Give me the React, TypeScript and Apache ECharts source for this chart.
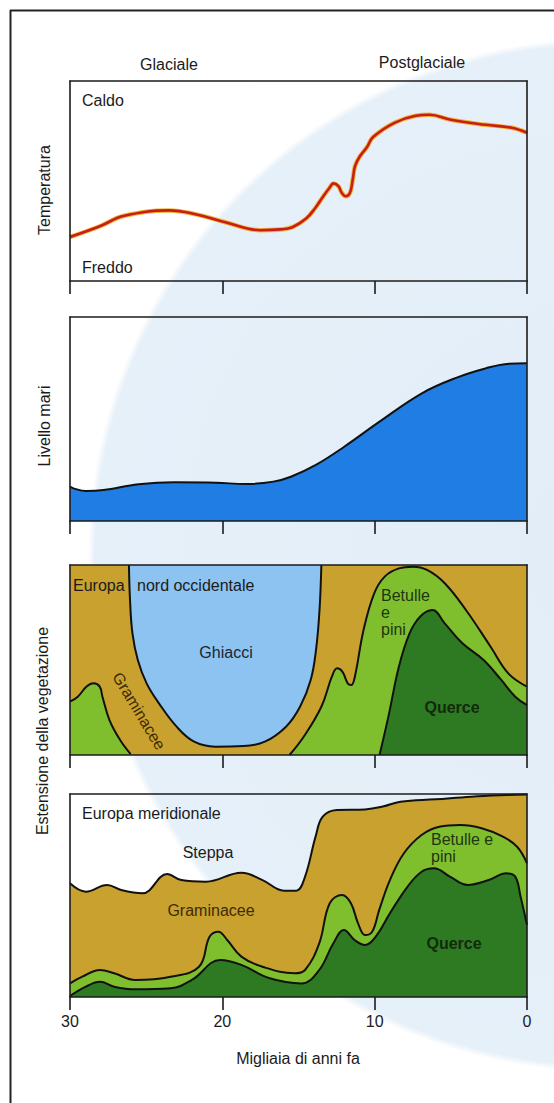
import React, { useEffect, useRef } from "react";
import * as echarts from "echarts";

// ---------- DATA ----------
const tickValues = [30, 20, 10, 0];

// Panel 1: temperature (0 = Freddo, 100 = Caldo)
const tempYears = [30, 28, 26.5, 23.5, 21.7, 19.8, 17.5, 16.2, 15.4, 14.5, 13.9, 13.37, 12.96, 12.71, 12.38, 12.16, 11.9, 11.62, 11.44, 11.29, 11.0, 10.5, 10.1, 8.7, 7.3, 6.4, 5.0, 2.7, 1.0, 0];
const tempValues = [22, 27.5, 32.5, 35.3, 33.3, 29.4, 25.4, 25.8, 26.9, 31.2, 36.5, 42.4, 46.6, 48.8, 47.4, 44.1, 42.4, 44.1, 50.7, 57.4, 62, 67, 72, 79.1, 82.6, 83.1, 80.6, 78.1, 76.6, 74.1];

// Panel 2: sea level
const seaYears = [30, 29.77, 28.96, 27.8, 25.5, 23.15, 20.4, 18.5, 16.65, 15.5, 13.86, 12.0, 9.68, 6.9, 4.57, 2.72, 1.33, 0];
const seaValues = [16.8, 16.0, 14.7, 15.2, 18.0, 19.0, 18.8, 18.1, 19.3, 21.7, 27.5, 36.4, 48.7, 62.6, 70.4, 74.8, 77.0, 77.3];

// Panel 3: north-western Europe
const nwIceYears = [26.13, 26.06, 25.9, 25.55, 24.97, 24.16, 23.0, 21.85, 20.46, 18.6, 17.21, 15.82, 14.9, 14.2, 13.85, 13.62, 13.5];
const nwIceValues = [100, 81.6, 64.0, 50.0, 37.7, 27.2, 14.9, 7.0, 4.4, 4.7, 7.0, 14.9, 25.4, 39.5, 55.3, 76.3, 100];
const nwGreenLeftYears = [30, 29.49, 28.91, 28.45, 28.05, 27.87, 27.41, 26.71, 26.02];
const nwGreenLeftValues = [28.1, 30.7, 36.0, 37.7, 36.0, 30.7, 18.4, 7.9, 0.5];
const nwBirchYears = [15.59, 14.66, 13.5, 12.81, 12.47, 12.12, 11.77, 11.54, 11.3, 10.73, 10.03, 9.34, 8.41, 7.48, 6.56, 5.4, 4.01, 2.39, 1.23, 0];
const nwBirchValues = [0, 9.6, 25.4, 41.2, 45.6, 43.9, 37.7, 36.8, 41.2, 65.8, 85.1, 93.9, 98.2, 99.1, 97.4, 90.4, 76.3, 57.0, 43.0, 36.0];
const nwOakYears = [9.68, 9.1, 8.41, 7.71, 7.02, 6.21, 5.4, 4.24, 2.85, 1.69, 0.77, 0];
const nwOakValues = [0, 20.2, 46.5, 64.0, 72.8, 76.3, 69.3, 58.8, 50.0, 39.5, 30.7, 26.3];

// Panel 4: southern Europe
const sGrassYears = [30, 28.96, 27.56, 26.64, 25.24, 23.62, 22.69, 21.07, 18.75, 17.36, 15.96, 15.15, 14.57, 13.88, 13.41, 12.48, 10.63, 9.47, 8.31, 5.99, 3.67, 1.35, 0];
const sGrassValues = [56.0, 51.9, 55.2, 52.7, 51.1, 60.6, 57.6, 56.8, 61.2, 57.6, 52.4, 52.4, 59.3, 79.0, 88.8, 92.1, 92.4, 93.8, 96.2, 97.4, 98.7, 99.5, 99.8];
const sBirchYears = [30, 29.19, 28.03, 27.1, 25.71, 23.39, 21.53, 20.84, 20.26, 19.68, 18.75, 17.36, 15.27, 14.57, 13.64, 12.95, 12.14, 11.56, 11.09, 10.63, 10.16, 9.7, 9.0, 8.08, 6.92, 5.76, 4.37, 2.98, 1.58, 0.65, 0];
const sBirchValues = [6.7, 10.0, 13.3, 11.7, 8.4, 10.0, 14.9, 29.7, 32.2, 28.1, 19.9, 14.9, 11.7, 13.3, 26.4, 46.2, 50.2, 46.2, 36.3, 30.5, 32.2, 42.9, 57.6, 70.8, 79.8, 83.9, 84.7, 83.1, 79.0, 74.0, 65.9];
const sOakYears = [30, 28.96, 28.03, 27.1, 25.71, 23.39, 22.0, 20.14, 18.75, 16.89, 14.8, 13.64, 12.72, 12.02, 11.32, 10.63, 9.93, 9.0, 7.85, 6.92, 6.11, 5.06, 3.9, 2.51, 1.35, 0.77, 0.42, 0];
const sOakValues = [0.5, 5.1, 7.5, 5.1, 3.8, 4.3, 8.4, 18.2, 15.8, 9.2, 6.7, 13.3, 26.4, 33.0, 28.1, 25.6, 29.7, 41.2, 54.3, 61.7, 63.4, 59.3, 55.2, 57.6, 60.9, 59.3, 49.4, 35.5];

// ---------- STYLE ----------
const FONT = "'Liberation Sans', Arial, Helvetica, sans-serif";
const INK = "#1b1b1b";
const GOLD = "#c9a12e";
const LIGHT_GREEN = "#7fbf2e";
const DARK_GREEN = "#2d7a22";
const ICE = "#8cc3f0";
const SEA = "#1f7de3";
const SMOOTH = 0.4;

const pts = (xs: number[], ys: number[]) => xs.map((x, i) => [x, ys[i]]);

export default function App() {
  const ref = useRef<HTMLDivElement>(null);

  useEffect(() => {
    if (!ref.current) return;
    const chart = echarts.init(ref.current, undefined, { renderer: "svg" });

    const grids = [
      { left: 70, top: 81, width: 457, height: 200 },
      { left: 70, top: 317, width: 457, height: 204 },
      { left: 70, top: 565, width: 457, height: 190, show: true, backgroundColor: GOLD, borderWidth: 0 },
      { left: 70, top: 794, width: 457, height: 203 },
    ];

    const axisLineStyle = { color: INK, width: 1.6 };
    const xAxes: any[] = [];
    const yAxes: any[] = [];
    grids.forEach((_, i) => {
      xAxes.push({
        gridIndex: i,
        type: "value",
        min: 0,
        max: 30,
        interval: 10,
        inverse: true,
        position: "bottom",
        z: 10,
        axisLine: { show: true, onZero: false, lineStyle: axisLineStyle },
        axisTick: { show: true, length: 13, inside: false, lineStyle: { color: INK, width: 1.6 } },
        axisLabel: {
          show: i === 3,
          margin: 16,
          fontSize: 16,
          color: INK,
          fontFamily: FONT,
          formatter: (v: number) => (tickValues.includes(v) ? String(v) : ""),
        },
        splitLine: { show: false },
      });
      xAxes.push({
        gridIndex: i,
        type: "value",
        min: 0,
        max: 30,
        inverse: true,
        position: "top",
        z: 10,
        axisLine: { show: true, onZero: false, lineStyle: axisLineStyle },
        axisTick: { show: false },
        axisLabel: { show: false },
        splitLine: { show: false },
      });
      ["left", "right"].forEach((pos) => {
        yAxes.push({
          gridIndex: i,
          type: "value",
          min: 0,
          max: 100,
          position: pos,
          z: 10,
          axisLine: { show: true, onZero: false, lineStyle: axisLineStyle },
          axisTick: { show: false },
          axisLabel: { show: false },
          splitLine: { show: false },
        });
      });
    });

    const outlined = (name: string, gi: number, xs: number[], ys: number[], fill: string, origin: string = "start") => ({
      name,
      type: "line",
      xAxisIndex: gi * 2,
      yAxisIndex: gi * 2,
      data: pts(xs, ys),
      symbol: "none",
      smooth: SMOOTH,
      lineStyle: { color: "#111", width: 2 },
      areaStyle: { color: fill, opacity: 1, origin },
      z: 3,
    });

    const series: any[] = [
      {
        name: "Temperatura (alone)",
        type: "line",
        xAxisIndex: 0,
        yAxisIndex: 0,
        data: pts(tempYears, tempValues),
        symbol: "none",
        smooth: SMOOTH,
        lineStyle: { color: "#f1b53a", width: 4.5 },
        z: 2,
      },
      {
        name: "Temperatura",
        type: "line",
        xAxisIndex: 0,
        yAxisIndex: 0,
        data: pts(tempYears, tempValues),
        symbol: "none",
        smooth: SMOOTH,
        lineStyle: { color: "#c81e18", width: 2.6 },
        z: 3,
      },
      outlined("Livello mari", 1, seaYears, seaValues, SEA),
      outlined("Ghiacci", 2, nwIceYears, nwIceValues, ICE, "end"),
      outlined("Graminacee / verde", 2, nwGreenLeftYears, nwGreenLeftValues, LIGHT_GREEN),
      outlined("Betulle e pini", 2, nwBirchYears, nwBirchValues, LIGHT_GREEN),
      outlined("Querce", 2, nwOakYears, nwOakValues, DARK_GREEN),
      outlined("Graminacee", 3, sGrassYears, sGrassValues, GOLD),
      outlined("Betulle e pini (sud)", 3, sBirchYears, sBirchValues, LIGHT_GREEN),
      outlined("Querce (sud)", 3, sOakYears, sOakValues, DARK_GREEN),
    ];

    const txt = (text: string, x: number, y: number, opts: any = {}) => ({
      type: "text",
      x,
      y,
      rotation: opts.rotation || 0,
      z: 20,
      style: {
        text,
        fontSize: opts.fontSize || 16,
        fontFamily: FONT,
        fontWeight: opts.fontWeight || "normal",
        fill: opts.fill || INK,
        align: opts.align || "left",
        verticalAlign: "middle",
      },
    });

    const graphic: any[] = [
      { type: "line", z: 20, shape: { x1: 10.5, y1: 10, x2: 10.5, y2: 1103 }, style: { stroke: "#222", lineWidth: 2 } },
      { type: "line", z: 20, shape: { x1: 10, y1: 10.5, x2: 554, y2: 10.5 }, style: { stroke: "#222", lineWidth: 2 } },
      txt("Glaciale", 169, 64, { align: "center" }),
      txt("Postglaciale", 422, 62, { align: "center" }),
      txt("Caldo", 82, 100),
      txt("Freddo", 82, 267),
      txt("Temperatura", 44, 190, { align: "center", rotation: Math.PI / 2 }),
      txt("Livello mari", 44, 426, { align: "center", rotation: Math.PI / 2 }),
      txt("Europa", 73, 585),
      txt("nord occidentale", 137, 585),
      txt("Ghiacci", 226, 652, { align: "center", fill: "#1c2633" }),
      txt("Graminacee", 139, 711, { align: "center", rotation: (-59 * Math.PI) / 180, fill: "#3e2b06" }),
      txt("Betulle", 381, 595, { fill: "#1f3510" }),
      txt("e", 381, 612, { fill: "#1f3510" }),
      txt("pini", 381, 629, { fill: "#1f3510" }),
      txt("Querce", 452, 707, { align: "center", fill: "#142a0c", fontWeight: "bold" }),
      txt("Estensione della vegetazione", 42, 731, { align: "center", rotation: Math.PI / 2 }),
      txt("Europa meridionale", 82, 813),
      txt("Steppa", 208, 852, { align: "center" }),
      txt("Graminacee", 211, 910, { align: "center", fill: "#3e2b06" }),
      txt("Betulle e", 431, 839, { fill: "#1f3510" }),
      txt("pini", 431, 856, { fill: "#1f3510" }),
      txt("Querce", 454, 943, { align: "center", fill: "#142a0c", fontWeight: "bold" }),
      txt("Migliaia di anni fa", 298, 1058, { align: "center" }),
    ];

    chart.setOption({
      animation: false,
      backgroundColor: "transparent",
      grid: grids,
      xAxis: xAxes,
      yAxis: yAxes,
      series,
      graphic,
    });

    return () => chart.dispose();
  }, []);

  return (
    <div
      style={{
        position: "absolute",
        left: 0,
        top: 0,
        width: 554,
        height: 1103,
        background:
          "radial-gradient(circle 515px at 605px 555px, #e3edf8 0px, #e6f0f9 510px, #ffffff 517px)",
      }}
    >
      <div ref={ref} style={{ width: 554, height: 1103 }} />
    </div>
  );
}
